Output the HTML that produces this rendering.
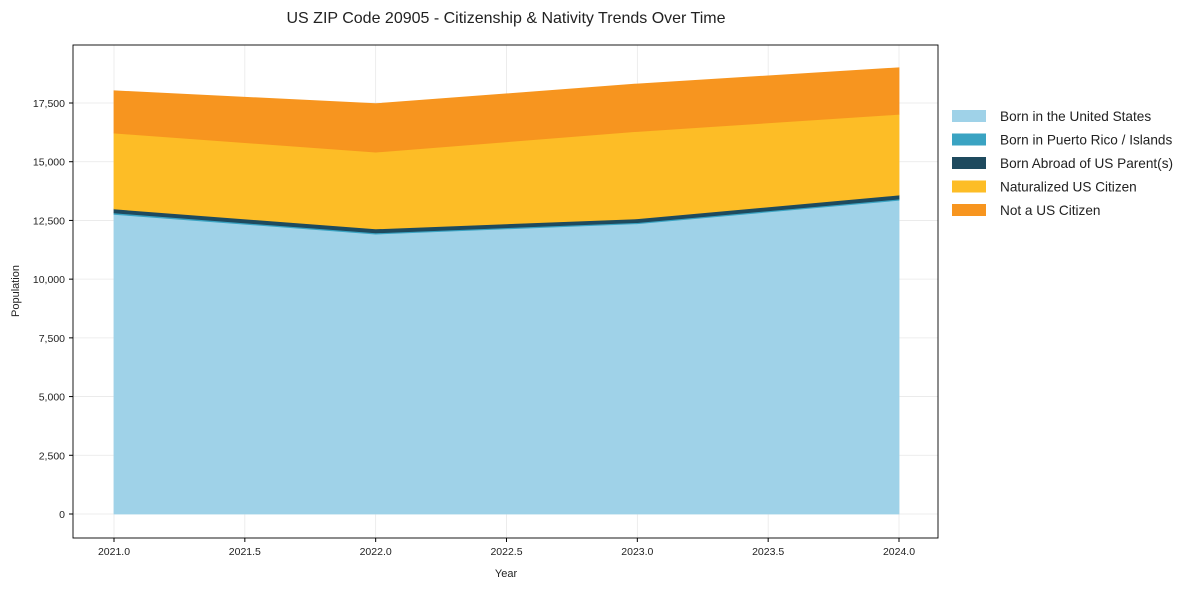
<!DOCTYPE html>
<html><head><meta charset="utf-8"><style>
body{margin:0;background:#fff;font-family:"Liberation Sans",Arial,sans-serif;}
</style></head><body>
<svg id="chart" width="1189" height="590" font-family="Liberation Sans, Arial, sans-serif">
<rect width="1189" height="590" fill="#fff"/>
<text x="506" y="23" text-anchor="middle" font-size="16" fill="#222">US ZIP Code 20905 - Citizenship &amp; Nativity Trends Over Time</text>
<g id="grid"></g><g id="areas"></g>
<rect x="73" y="45" width="865" height="493" fill="none" stroke="#000" stroke-width="0.9"/>
<g id="axes"></g>
<text x="506" y="577" text-anchor="middle" font-size="11" fill="#222">Year</text>
<text transform="translate(19,291) rotate(-90)" text-anchor="middle" font-size="11" fill="#222">Population</text>
<g id="legend"></g>
</svg>
<script>
const years=[2021,2022,2023,2024];
const bornUS=[12760,11920,12360,13360];
const bornPR=[60,50,50,50];
const bornAbroad=[170,170,160,170];
const naturalized=[3230,3270,3720,3440];
const notCitizen=[1800,2060,2020,1980];
const seriesNames=["Born in the United States","Born in Puerto Rico / Islands","Born Abroad of US Parent(s)","Naturalized US Citizen","Not a US Citizen"];
const colors=["#9fd2e8","#3aa3c2","#1e4a5e","#fdbd26","#f7951f"];
const xTicks=[2021,2021.5,2022,2022.5,2023,2023.5,2024];
const yTicks=[0,2500,5000,7500,10000,12500,15000,17500];
const NS="http://www.w3.org/2000/svg";
const X=v=>114+(v-2021)*(899-114)/3;
const Y=v=>514-v*(514-103)/17500;
function mk(t,a,p){const e=document.createElementNS(NS,t);for(const k in a)e.setAttribute(k,a[k]);p.appendChild(e);return e;}
const grid=document.getElementById('grid'),axes=document.getElementById('axes');
xTicks.forEach(t=>{const x=X(t);
 const g=mk('line',{x1:x,x2:x,y1:45,y2:538,stroke:'#e8e8e8','stroke-width':0.8},grid);
 
 mk('line',{x1:x,x2:x,y1:538,y2:542,stroke:'#000'},axes);
 const l=mk('text',{x:x,y:555,'text-anchor':'middle','font-size':10.5,fill:'#222'},axes);l.textContent=t.toFixed(1);
 });
yTicks.forEach(t=>{const y=Y(t);
 const g=mk('line',{x1:73,x2:938,y1:y,y2:y,stroke:'#e8e8e8','stroke-width':0.8},grid);
 
 mk('line',{x1:69,x2:73,y1:y,y2:y,stroke:'#000'},axes);
 const l=mk('text',{x:65,y:y+4,'text-anchor':'end','font-size':10.5,fill:'#222'},axes);l.textContent=t.toLocaleString('en-US');
 });
const series=[bornUS,bornPR,bornAbroad,naturalized,notCitizen];
const areas=document.getElementById('areas');
let base=years.map(()=>0);
series.forEach((s,i)=>{const top=base.map((b,j)=>b+s[j]);
 let d=years.map((yr,j)=>(j?'L':'M')+X(yr)+','+Y(top[j])).join('');
 for(let j=years.length-1;j>=0;j--)d+='L'+X(years[j])+','+Y(base[j]);
 const p=mk('path',{d:d+'Z',fill:colors[i],stroke:colors[i],'stroke-width':0.8},areas);
 
 
 base=top;});
const lg=document.getElementById('legend');
seriesNames.forEach((n,i)=>{const y=116+i*23.5;
 const g=mk('g',{},lg);
 
 mk('rect',{x:952,y:y-6,width:34,height:12,fill:colors[i]},g);
 const t=mk('text',{x:1000,y:y+5,'font-size':13.6,fill:'#222'},g);t.textContent=n;});
</script>
</body></html>
